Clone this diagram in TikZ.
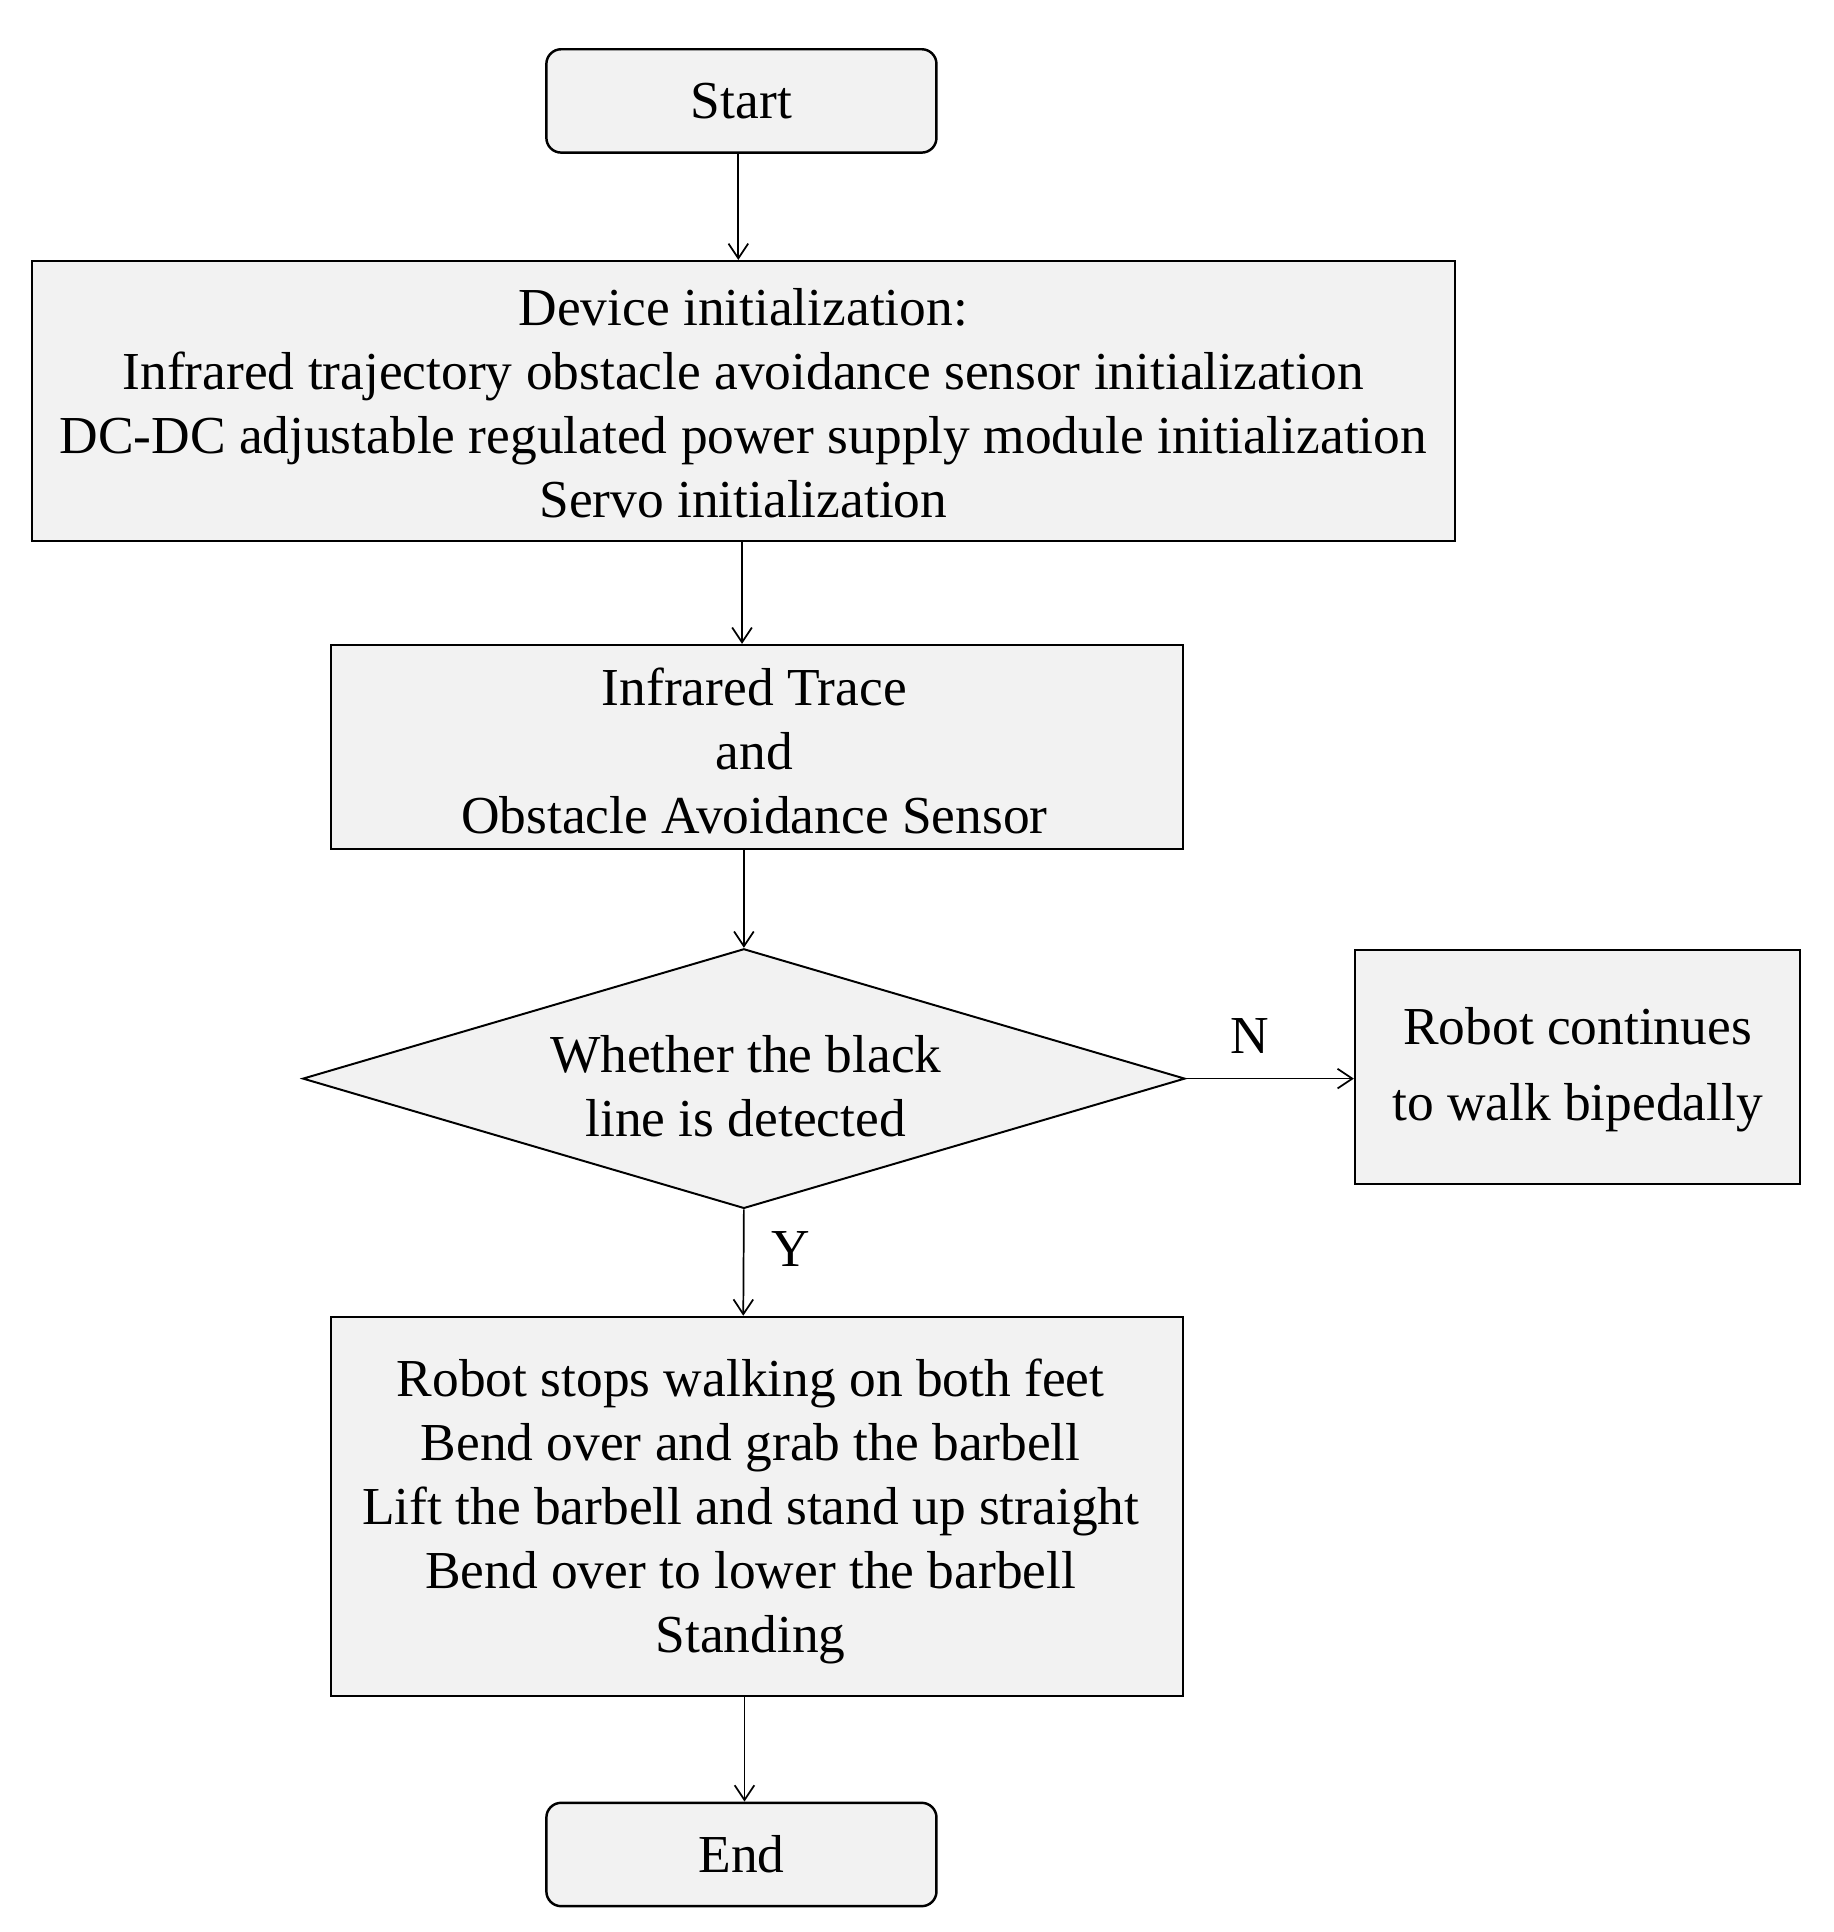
\documentclass[tikz,border=0pt]{standalone}
\usepackage{fontspec}
\setmainfont{Liberation Serif}
\usetikzlibrary{shapes.geometric,arrows.meta}
\definecolor{boxfill}{HTML}{F2F2F2}
\tikzset{
  every node/.style={font=\fontsize{21.7}{26}\selectfont},
  procbox/.style={draw=black,line width=0.8pt,fill=boxfill,rectangle,align=center,inner sep=0pt},
  termbox/.style={draw=black,line width=1pt,fill=boxfill,rectangle,rounded corners=6pt,align=center,inner sep=0pt},
  decbox/.style={draw=black,line width=0.8pt,fill=boxfill,diamond,align=center,inner sep=0pt,aspect=3.4},
  flow/.style={draw=black,line width=0.7pt,-{Straight Barb[length=6pt,width=8pt,line width=0.7pt]}},
  lbl/.style={inner sep=0pt}
}
\begin{document}
\begin{tikzpicture}[x=0.5pt,y=-0.5pt]
\useasboundingbox (0,0) rectangle (1490,1570);
\node[termbox,minimum width=158.5pt,minimum height=42pt] (start) at (602.5,82) {Start};
\node[procbox,minimum width=578pt,minimum height=114pt] (init) at (604,326) {};
\node[lbl,align=center] (inittext) at (604,328) {Device initialization:\\Infrared trajectory obstacle avoidance sensor initialization\\DC-DC adjustable regulated power supply module initialization\\Servo initialization};
\node[procbox,minimum width=346pt,minimum height=83pt] (trace) at (615,607) {};
\node[lbl,align=center] (tracetext) at (613,610) {Infrared Trace\\and\\Obstacle Avoidance Sensor};
\node[decbox,minimum width=358.5pt,minimum height=105.5pt] (dec) at (604.5,876.5) {};
\node[lbl,align=center] (dectext) at (606,883) {Whether the black\\line is detected};
\node[procbox,minimum width=181pt,minimum height=95pt] (walk) at (1282,867) {};
\node[lbl,align=center,font=\fontsize{21.7}{31}\selectfont] (walktext) at (1282,869) {Robot continues\\to walk bipedally};
\node[procbox,minimum width=346pt,minimum height=154pt] (act) at (615,1224) {};
\node[lbl,align=center] (acttext) at (610,1228) {Robot stops walking on both feet\\Bend over and grab the barbell\\Lift the barbell and stand up straight\\Bend over to lower the barbell\\Standing};
\node[termbox,minimum width=158.5pt,minimum height=42pt] (end) at (602.5,1507) {End};
\coordinate (s1) at (600,124);
\coordinate (s2) at (600,212);
\draw[flow] (start.south -| s1) -- (init.north -| s2);
\coordinate (t1) at (603,440);
\draw[flow] (init.south -| t1) -- (trace.north -| t1);
\draw[flow] (trace.south -| dec.north) -- (dec.north);
\coordinate (d1) at (604,982);
\draw[flow] (dec.south) -- (act.north -| d1);
\draw[flow] (dec.east) -- (walk.west |- dec.east);
\coordinate (e1) at (605,1378);
\draw[flow] (act.south -| e1) -- (end.north -| e1);
\node[lbl] (nlbl) at (1016,842) {N};
\node[lbl] (ylbl) at (643,1015) {Y};
\end{tikzpicture}
\end{document}
